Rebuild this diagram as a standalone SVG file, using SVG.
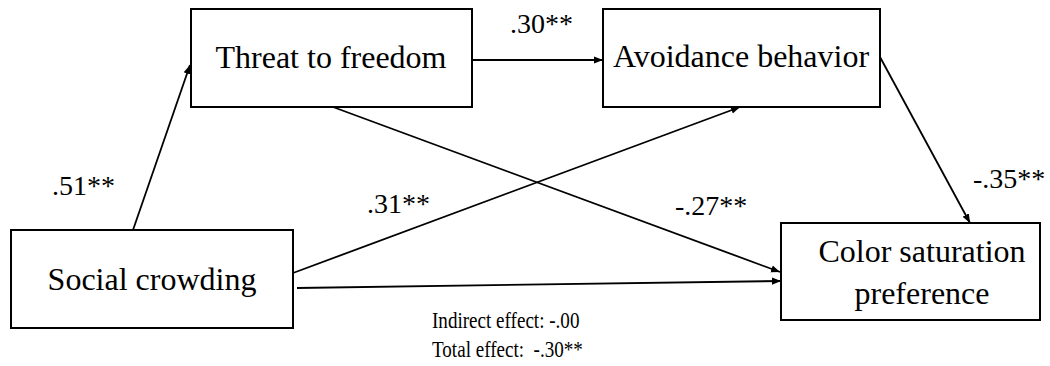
<svg xmlns="http://www.w3.org/2000/svg" width="1050" height="366" viewBox="0 0 1050 366">
<defs>
<marker id="ah" viewBox="0 0 10 10" refX="10" refY="5" markerWidth="9" markerHeight="9" markerUnits="userSpaceOnUse" orient="auto">
<path d="M0,1 L10,5 L0,9 Z" fill="#000"/>
</marker>
<style>
text{font-family:'Liberation Serif','Times New Roman','DejaVu Serif',serif;fill:#000}
.box{fill:#fff;stroke:#000;stroke-width:2}
.nt{font-size:32px;text-anchor:middle}
.lb{font-size:28px}
.sm{font-size:23px}
.c{fill:none;stroke:#000;stroke-width:1.8;marker-end:url(#ah)}
</style>
</defs>
<rect width="1050" height="366" fill="#fff"/>
<g id="connectors">
<line class="c" x1="133" y1="230" x2="190" y2="65"/>
<line class="c" x1="472" y1="60" x2="603" y2="60"/>
<line class="c" x1="333" y1="107" x2="780" y2="272"/>
<line class="c" x1="293" y1="273" x2="740" y2="107"/>
<line class="c" x1="880" y1="57" x2="970" y2="223"/>
<line class="c" x1="297" y1="288" x2="781" y2="281"/>
</g>
<g id="labels">
<text class="lb" x="52" y="195">.51**</text>
<text class="lb" x="510" y="33">.30**</text>
<text class="lb" x="367" y="213">.31**</text>
<text class="lb" x="675" y="215">-.27**</text>
<text class="lb" x="973" y="188">-.35**</text>
<text class="sm" transform="translate(432,328) scale(0.83,1)">Indirect effect: -.00</text>
<text class="sm" transform="translate(432,357) scale(0.83,1)" xml:space="preserve">Total effect:  -.30**</text>
</g>
<g id="threat">
<rect class="box" x="191" y="9" width="281" height="98"/>
<text class="nt" x="331" y="68">Threat to freedom</text>
</g>
<g id="avoidance">
<rect class="box" x="603" y="9" width="277" height="98"/>
<text class="nt" x="741" y="67">Avoidance behavior</text>
</g>
<g id="social">
<rect class="box" x="11" y="230" width="282" height="98"/>
<text class="nt" x="152" y="290">Social crowding</text>
</g>
<g id="color">
<rect class="box" x="781" y="223" width="259" height="97"/>
<text class="nt" x="922" y="262">Color saturation</text>
<text class="nt" x="922" y="304">preference</text>
</g>
</svg>
